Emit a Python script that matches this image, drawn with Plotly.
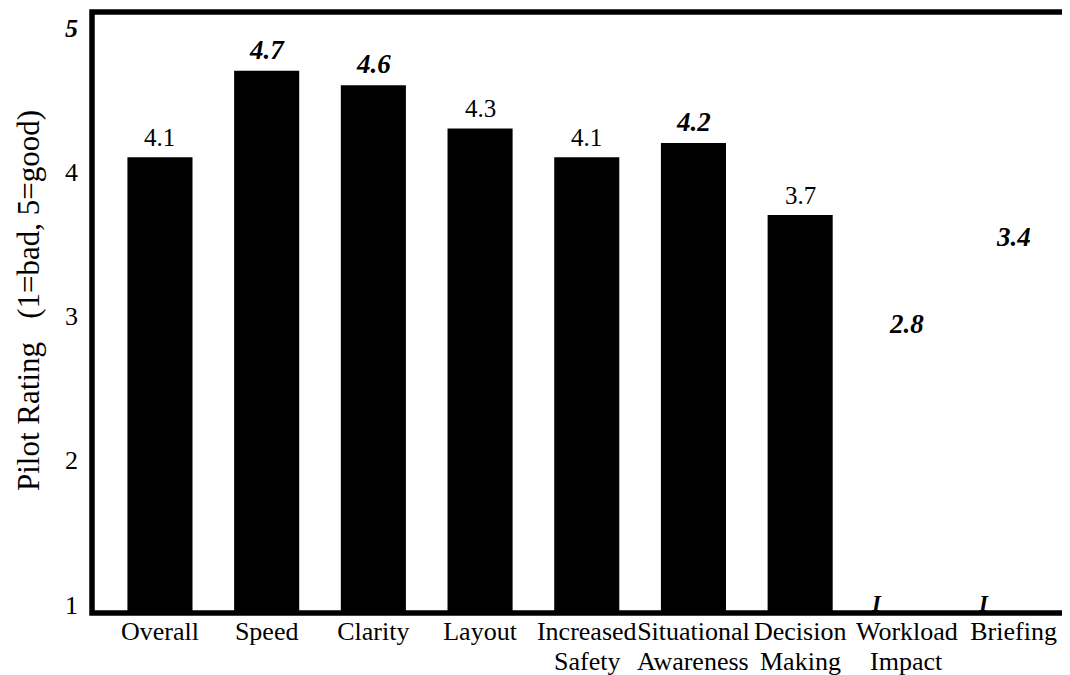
import plotly.graph_objects as go

categories = ["Overall", "Speed", "Clarity", "Layout", "Increased", "Situational",
              "Decision", "Workload", "Briefing"]
second_line_cats = ["Increased", "Situational", "Decision", "Workload"]
second_line_text = ["Safety", "Awareness", "Making", "Impact"]
ratings = [4.1, 4.7, 4.6, 4.3, 4.1, 4.2, 3.7, 2.8, 3.4]
label_bold_italic = [False, True, True, False, False, True, False, True, True]
bar_visible = [True, True, True, True, True, True, True, False, False]
marker_cats = ["Workload", "Briefing"]
marker_text = ["I", "I"]
y_ticks = [1, 2, 3, 4, 5]
y_ticktext = ["1", "2", "3", "4", "<b><i>5</i></b>"]

FONT = "Liberation Serif, Times New Roman, serif"

# figure geometry (the page has an 8px body margin, compensated here)
W, H = 1070, 675
L, R, T, B = 84, 8, 4, 70
pw, ph = W - L - R, H - T - B


def px_to_paper(px_x=None, px_y=None):
    """page pixel -> paper coords (page offset 8,8)"""
    out = []
    if px_x is not None:
        out.append((px_x - 8 - L) / pw)
    if px_y is not None:
        out.append((H - B - (px_y - 8)) / ph)
    return out


fig = go.Figure()
fig.add_trace(go.Bar(
    x=categories, y=ratings,
    marker=dict(color=["#000000" if v else "rgba(0,0,0,0)" for v in bar_visible],
                line=dict(width=0)),
    hoverinfo="x+y",
))

annotations = []
for c, v, bi in zip(categories, ratings, label_bold_italic):
    txt = f"<b><i>{v:.1f}</i></b>" if bi else f"{v:.1f}"
    annotations.append(dict(
        x=c, y=v, xref="x", yref="y", text=txt, showarrow=False,
        yanchor="bottom", yshift=4,
        font=dict(family=FONT, size=27 if bi else 25, color="#000"),
    ))
for c, t in zip(marker_cats, marker_text):
    annotations.append(dict(
        x=c, y=1, xref="x", yref="y", text=f"<b><i>{t}</i></b>", showarrow=False,
        yanchor="middle", xshift=-30, yshift=1,
        font=dict(family=FONT, size=23, color="#000"),
    ))
(sl_y,) = px_to_paper(px_y=661)
for c, t in zip(second_line_cats, second_line_text):
    annotations.append(dict(
        x=c, y=sl_y, xref="x", yref="paper", text=t, showarrow=False,
        yanchor="middle", xanchor="center",
        font=dict(family=FONT, size=26, color="#000"),
    ))
tx, ty = px_to_paper(28, 301)
annotations.append(dict(
    x=tx, y=ty, xref="paper", yref="paper",
    text="Pilot Rating&nbsp;&nbsp;&nbsp;(1=bad, 5=good)",
    showarrow=False, textangle=-90, xanchor="center", yanchor="middle",
    font=dict(family=FONT, size=31, color="#000"),
))

fig.update_layout(
    width=W, height=H,
    margin=dict(l=L, r=R, t=T, b=B, autoexpand=False),
    paper_bgcolor="white", plot_bgcolor="white",
    showlegend=False,
    bargap=0.39,
    font=dict(family=FONT, color="#000"),
    annotations=annotations,
    shapes=[dict(type="path", xref="paper", yref="paper",
                 path="M 1.01,1 L 0,1 L 0,0 L 1.01,0",
                 line=dict(color="#000", width=5.5))],
    xaxis=dict(
        range=[-0.637, 8.529], tickmode="array", tickvals=categories, ticktext=categories,
        tickangle=0,
        showline=False, showgrid=False, zeroline=False, ticks="",
        tickfont=dict(family=FONT, size=26, color="#000"),
        automargin=False,
    ),
    yaxis=dict(
        range=[0.942, 5.107], tickmode="array", tickvals=y_ticks, ticktext=y_ticktext,
        showline=False, showgrid=False, zeroline=False, ticks="", ticklabelstandoff=13,
        tickfont=dict(family=FONT, size=26, color="#000"),
        automargin=False,
    ),
)

fig.write_html("out.html")
